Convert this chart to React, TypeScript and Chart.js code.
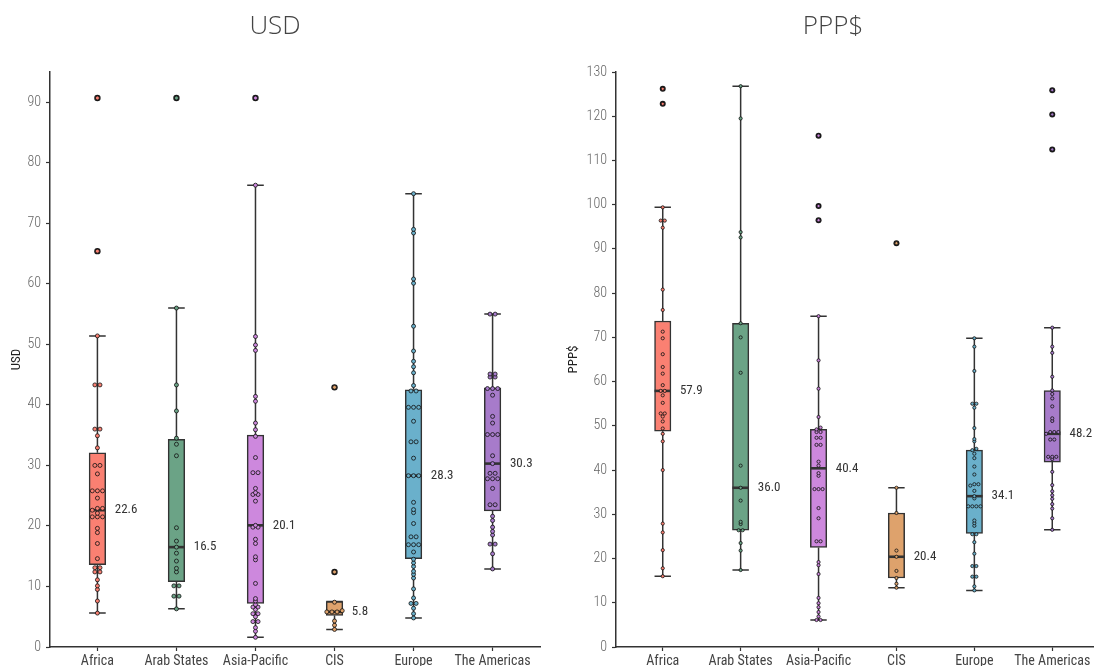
import React, { useEffect, useRef } from 'react';
import { Chart, registerables } from 'chart.js';

Chart.register(...registerables);

// Regions shown on the x axis of both panels
const regions = ['Africa', 'Arab States', 'Asia-Pacific', 'CIS', 'Europe', 'The Americas'];
const regionColors = ['#FA8072', '#6BA386', '#CD88DD', '#DEA26C', '#6AB0CB', '#A77BCA'];

// ---- USD: observations per region ----
const usdAfrica = [90.7, 65.4, 51.4, 43.3, 43.3, 36.0, 36.0, 34.9, 32.9, 30.0, 30.0, 28.6, 25.8, 25.8, 25.8, 24.6, 22.9, 22.9, 22.6, 22.1, 21.5, 21.5, 21.5, 19.6, 18.9, 17.1, 14.6, 13.1, 13.1, 12.4, 12.4, 11.1, 10.1, 9.5, 7.6, 5.6];
const usdArabStates = [90.7, 56.0, 43.3, 39.0, 34.5, 33.5, 31.6, 19.7, 17.5, 16.5, 15.5, 14.2, 13.0, 12.4, 10.1, 10.1, 8.4, 8.4, 6.3];
const usdAsiaPacific = [90.7, 76.3, 51.3, 49.9, 49.0, 41.4, 40.6, 37.0, 35.9, 34.8, 31.3, 28.8, 28.8, 26.2, 25.5, 25.2, 25.2, 24.1, 20.1, 19.8, 19.8, 17.8, 17.1, 14.9, 14.4, 10.5, 8.0, 7.6, 7.0, 6.6, 6.6, 6.2, 5.5, 5.5, 5.0, 4.2, 4.2, 3.2, 2.6, 1.6];
const usdCIS = [42.9, 12.4, 7.4, 6.0, 5.8, 5.8, 5.8, 4.3, 3.6, 2.9];
const usdEurope = [74.9, 69.0, 68.4, 60.8, 60.1, 53.0, 48.9, 47.2, 46.3, 45.3, 43.2, 42.3, 42.3, 39.6, 39.6, 39.6, 37.3, 33.9, 33.9, 31.2, 28.3, 28.3, 28.3, 23.9, 22.7, 22.2, 20.4, 18.2, 18.2, 16.9, 16.9, 16.9, 15.7, 14.5, 13.9, 13.3, 12.5, 12.0, 11.4, 9.6, 8.1, 7.2, 7.2, 6.4, 5.5, 4.8];
const usdAmericas = [55.0, 55.0, 45.1, 45.1, 44.6, 44.6, 42.7, 42.7, 42.7, 41.6, 38.1, 37.0, 35.1, 35.1, 35.1, 31.6, 30.3, 28.7, 28.7, 27.8, 27.8, 27.8, 26.2, 23.5, 23.5, 21.6, 20.9, 19.8, 19.1, 18.5, 17.0, 17.0, 15.4, 12.9];

// USD box statistics
const usdQ1 = [13.6, 10.8, 7.2, 5.2, 14.6, 22.5];
const usdMedian = [22.6, 16.5, 20.1, 5.8, 28.3, 30.3];
const usdQ3 = [32.1, 34.3, 35.0, 7.5, 42.5, 42.8];
const usdWhiskerLow = [5.6, 6.3, 1.6, 2.9, 4.8, 12.9];
const usdWhiskerHigh = [51.4, 56.0, 76.3, 7.5, 74.9, 55.0];
const usdTicks = [0, 10, 20, 30, 40, 50, 60, 70, 80, 90];

// ---- PPP$: observations per region ----
const pppAfrica = [126.2, 122.8, 99.4, 96.4, 96.4, 94.8, 80.8, 76.2, 71.3, 69.8, 66.2, 63.3, 61.8, 59.2, 57.9, 57.9, 56.9, 55.2, 52.8, 52.8, 52.1, 51.0, 49.4, 48.2, 46.5, 40.0, 27.9, 25.9, 21.9, 17.8, 16.0];
const pppArabStates = [126.8, 119.5, 93.8, 92.6, 73.2, 70.0, 62.0, 41.0, 36.0, 33.1, 28.3, 27.8, 26.4, 26.4, 23.5, 21.8, 17.4];
const pppAsiaPacific = [115.6, 99.7, 96.5, 74.8, 64.8, 58.4, 52.0, 49.6, 49.2, 48.6, 48.6, 47.3, 47.3, 45.7, 45.7, 41.9, 41.0, 39.3, 38.7, 35.7, 35.7, 35.7, 31.4, 29.1, 23.9, 23.9, 19.2, 18.5, 16.5, 11.1, 9.9, 9.0, 7.9, 6.9, 6.1, 6.1];
const pppCIS = [91.3, 36.0, 30.3, 21.8, 20.4, 17.2, 15.6, 14.3, 13.4];
const pppEurope = [69.8, 67.9, 62.4, 55.0, 55.0, 54.1, 49.5, 47.0, 46.5, 44.8, 44.5, 43.7, 42.7, 40.8, 39.0, 36.8, 36.8, 36.5, 35.3, 34.1, 33.6, 31.8, 31.8, 31.8, 31.8, 28.6, 28.0, 27.4, 25.5, 25.5, 23.7, 21.1, 18.3, 18.3, 15.9, 15.9, 13.7, 12.8];
const pppAmericas = [125.9, 120.4, 112.5, 72.2, 67.9, 66.5, 61.1, 58.0, 57.2, 56.2, 54.4, 51.7, 51.1, 48.6, 48.6, 48.6, 48.2, 46.9, 46.9, 43.0, 43.0, 43.0, 42.5, 39.6, 36.6, 35.2, 34.3, 33.5, 32.3, 31.3, 29.1, 26.5];

// PPP$ box statistics
const pppQ1 = [48.8, 26.4, 22.5, 15.6, 25.7, 41.8];
const pppMedian = [57.9, 36.0, 40.4, 20.4, 34.1, 48.2];
const pppQ3 = [73.7, 73.2, 49.2, 30.3, 44.5, 58.0];
const pppWhiskerLow = [16.0, 17.4, 6.1, 13.4, 12.8, 26.5];
const pppWhiskerHigh = [99.4, 126.8, 74.8, 36.0, 69.8, 72.2];
const pppTicks = [0, 10, 20, 30, 40, 50, 60, 70, 80, 90, 100, 110, 120, 130];

const NARROW = "'Roboto Condensed', 'Liberation Sans Narrow', Roboto, sans-serif";
const LIGHT = "'Open Sans', 'Lato', sans-serif";
const INK = '#333333';

type Panel = {
  title: string;
  axisTitle: string;
  points: number[][];
  q1: number[];
  median: number[];
  q3: number[];
  low: number[];
  high: number[];
  ticks: number[];
  yMax: number;
  pointRadius: number;
  outlierRadius: number;
  step: number;
  tol: number;
  padLeft: number;
  padRight: number;
  yAxisWidth: number;
  boxPx: number;
};

// Spread tied values sideways so they stay visible (simple beeswarm)
function swarm(values: number[], center: number, tol: number, step: number) {
  const sorted = [...values].sort((a, b) => a - b);
  const out: { x: number; y: number }[] = [];
  let i = 0;
  while (i < sorted.length) {
    let j = i;
    while (j + 1 < sorted.length && sorted[j + 1] - sorted[i] < tol) j++;
    const n = j - i + 1;
    for (let k = 0; k < n; k++) {
      out.push({ x: center + (k - (n - 1) / 2) * step, y: sorted[i + k] });
    }
    i = j + 1;
  }
  return out;
}

function boxDecorations(p: Panel) {
  return {
    id: 'boxDecorations',
    beforeDatasetsDraw(chart: any) {
      const { ctx, scales } = chart;
      const x = scales.x;
      const y = scales.y;
      const half = p.boxPx / 2;
      ctx.save();
      ctx.strokeStyle = INK;
      ctx.lineWidth = 1.5;
      p.q1.forEach((q1, i) => {
        const cx = x.getPixelForValue(i);
        const yl = y.getPixelForValue(p.low[i]);
        const yh = y.getPixelForValue(p.high[i]);
        ctx.beginPath();
        ctx.moveTo(cx, yl);
        ctx.lineTo(cx, y.getPixelForValue(q1));
        ctx.moveTo(cx, y.getPixelForValue(p.q3[i]));
        ctx.lineTo(cx, yh);
        ctx.moveTo(cx - half, yl);
        ctx.lineTo(cx + half, yl);
        ctx.moveTo(cx - half, yh);
        ctx.lineTo(cx + half, yh);
        ctx.stroke();
      });
      ctx.restore();
    },
    afterDatasetDraw(chart: any, args: any) {
      if (args.index !== 0) return;
      const { ctx, scales } = chart;
      const half = p.boxPx / 2;
      ctx.save();
      ctx.strokeStyle = INK;
      ctx.lineWidth = 2.6;
      p.median.forEach((m, i) => {
        const cx = scales.x.getPixelForValue(i);
        const ym = scales.y.getPixelForValue(m);
        ctx.beginPath();
        ctx.moveTo(cx - half, ym);
        ctx.lineTo(cx + half, ym);
        ctx.stroke();
      });
      ctx.restore();
    },
    afterDatasetsDraw(chart: any) {
      const { ctx, scales } = chart;
      ctx.save();
      ctx.fillStyle = INK;
      ctx.font = `13px ${NARROW}`;
      ctx.textAlign = 'left';
      ctx.textBaseline = 'middle';
      p.median.forEach((m, i) => {
        const cx = scales.x.getPixelForValue(i);
        ctx.fillText(m.toFixed(1), cx + p.boxPx / 2 + 9, scales.y.getPixelForValue(m));
      });
      ctx.restore();
    },
  };
}

function buildChart(canvas: HTMLCanvasElement, p: Panel) {
  const datasets: any[] = [];
  datasets.push({
    type: 'bar',
    data: p.q1.map((q1, i) => ({ x: i, y: [q1, p.q3[i]] })),
    backgroundColor: regionColors,
    borderColor: INK,
    borderWidth: 1.5,
    borderSkipped: false,
    barThickness: p.boxPx,
    order: 3,
  });
  const outliers: { x: number; y: number }[] = [];
  p.points.forEach((vals, i) => {
    vals.forEach((v) => {
      if (v > p.high[i] + 1e-9 || v < p.low[i] - 1e-9) outliers.push({ x: i, y: v });
    });
  });
  datasets.push({
    type: 'scatter',
    data: outliers,
    backgroundColor: '#1a1a1a',
    borderColor: '#1a1a1a',
    borderWidth: 0,
    pointRadius: p.outlierRadius,
    showLine: false,
    order: 2,
  });
  p.points.forEach((vals, i) => {
    datasets.push({
      type: 'scatter',
      data: swarm(vals, i, p.tol, p.step),
      backgroundColor: regionColors[i],
      borderColor: '#111111',
      borderWidth: 0.8,
      pointRadius: p.pointRadius,
      showLine: false,
      order: 1,
    });
  });

  const axisGrid = {
    display: true,
    drawOnChartArea: false,
    drawTicks: true,
    offset: false,
    tickLength: 4,
    tickWidth: 1.2,
    color: INK,
  };

  return new Chart(canvas, {
    type: 'bar',
    data: { datasets },
    plugins: [boxDecorations(p)],
    options: {
      responsive: false,
      animation: false,
      events: [],
      layout: { padding: { left: p.padLeft, right: p.padRight, top: 0, bottom: 0 } },
      plugins: {
        legend: { display: false },
        tooltip: { enabled: false },
        title: {
          display: true,
          text: p.title,
          color: '#444444',
          font: { family: LIGHT, size: 26, weight: '300' as any, lineHeight: 1.2 },
          padding: { top: 11, bottom: 29.8 },
        },
      },
      scales: {
        x: {
          type: 'linear',
          offset: false,
          min: -0.6,
          max: 5.6,
          grid: axisGrid,
          border: { display: true, color: INK, width: 1.5 },
          ticks: {
            autoSkip: false,
            maxRotation: 0,
            minRotation: 0,
            padding: 2,
            color: '#444444',
            font: { family: NARROW, size: 14 },
            callback: (v: any) => regions[Number(v)] ?? '',
          },
          afterBuildTicks: (s: any) => {
            s.ticks = regions.map((_, i) => ({ value: i }));
          },
          afterFit: (s: any) => {
            s.height = 19;
          },
        },
        y: {
          type: 'linear',
          min: 0,
          max: p.yMax,
          grid: axisGrid,
          border: { display: true, color: INK, width: 1.5 },
          ticks: {
            color: '#666666',
            padding: 5,
            font: { family: NARROW, size: 14, weight: '300' as any },
          },
          afterBuildTicks: (s: any) => {
            s.ticks = p.ticks.map((v) => ({ value: v }));
          },
          afterFit: (s: any) => {
            s.width = p.yAxisWidth;
          },
          title: {
            display: true,
            text: p.axisTitle,
            color: '#222222',
            font: { family: NARROW, size: 13, lineHeight: 1 },
            padding: { top: 0, bottom: 0 },
          },
        },
      },
    } as any,
  });
}

const usdPanel: Panel = {
  title: 'USD',
  axisTitle: 'USD',
  points: [usdAfrica, usdArabStates, usdAsiaPacific, usdCIS, usdEurope, usdAmericas],
  q1: usdQ1,
  median: usdMedian,
  q3: usdQ3,
  low: usdWhiskerLow,
  high: usdWhiskerHigh,
  ticks: usdTicks,
  yMax: 95,
  pointRadius: 2,
  outlierRadius: 3.2,
  step: 0.065,
  tol: 0.3,
  padLeft: 10,
  padRight: 16,
  yAxisWidth: 40,
  boxPx: 16.6,
};

const pppPanel: Panel = {
  title: 'PPP$',
  axisTitle: 'PPP$',
  points: [pppAfrica, pppArabStates, pppAsiaPacific, pppCIS, pppEurope, pppAmericas],
  q1: pppQ1,
  median: pppMedian,
  q3: pppQ3,
  low: pppWhiskerLow,
  high: pppWhiskerHigh,
  ticks: pppTicks,
  yMax: 130,
  pointRadius: 1.6,
  outlierRadius: 3,
  step: 0.052,
  tol: 0.4,
  padLeft: 11,
  padRight: 11,
  yAxisWidth: 49,
  boxPx: 16.4,
};

function PanelCanvas({ panel, left, width }: { panel: Panel; left: number; width: number }) {
  const ref = useRef<HTMLCanvasElement | null>(null);
  useEffect(() => {
    if (!ref.current) return;
    const chart = buildChart(ref.current, panel);
    return () => chart.destroy();
  }, [panel]);
  return (
    <canvas
      ref={ref}
      width={width}
      height={666}
      style={{ position: 'absolute', left, top: 0, width, height: 666, display: 'block' }}
    />
  );
}

export default function App() {
  return (
    <div
      style={{
        position: 'fixed',
        left: 0,
        top: 0,
        width: 1110,
        height: 666,
        overflow: 'hidden',
        background: '#ffffff',
      }}
    >
      <PanelCanvas panel={usdPanel} left={0} width={556} />
      <PanelCanvas panel={pppPanel} left={556} width={554} />
    </div>
  );
}
